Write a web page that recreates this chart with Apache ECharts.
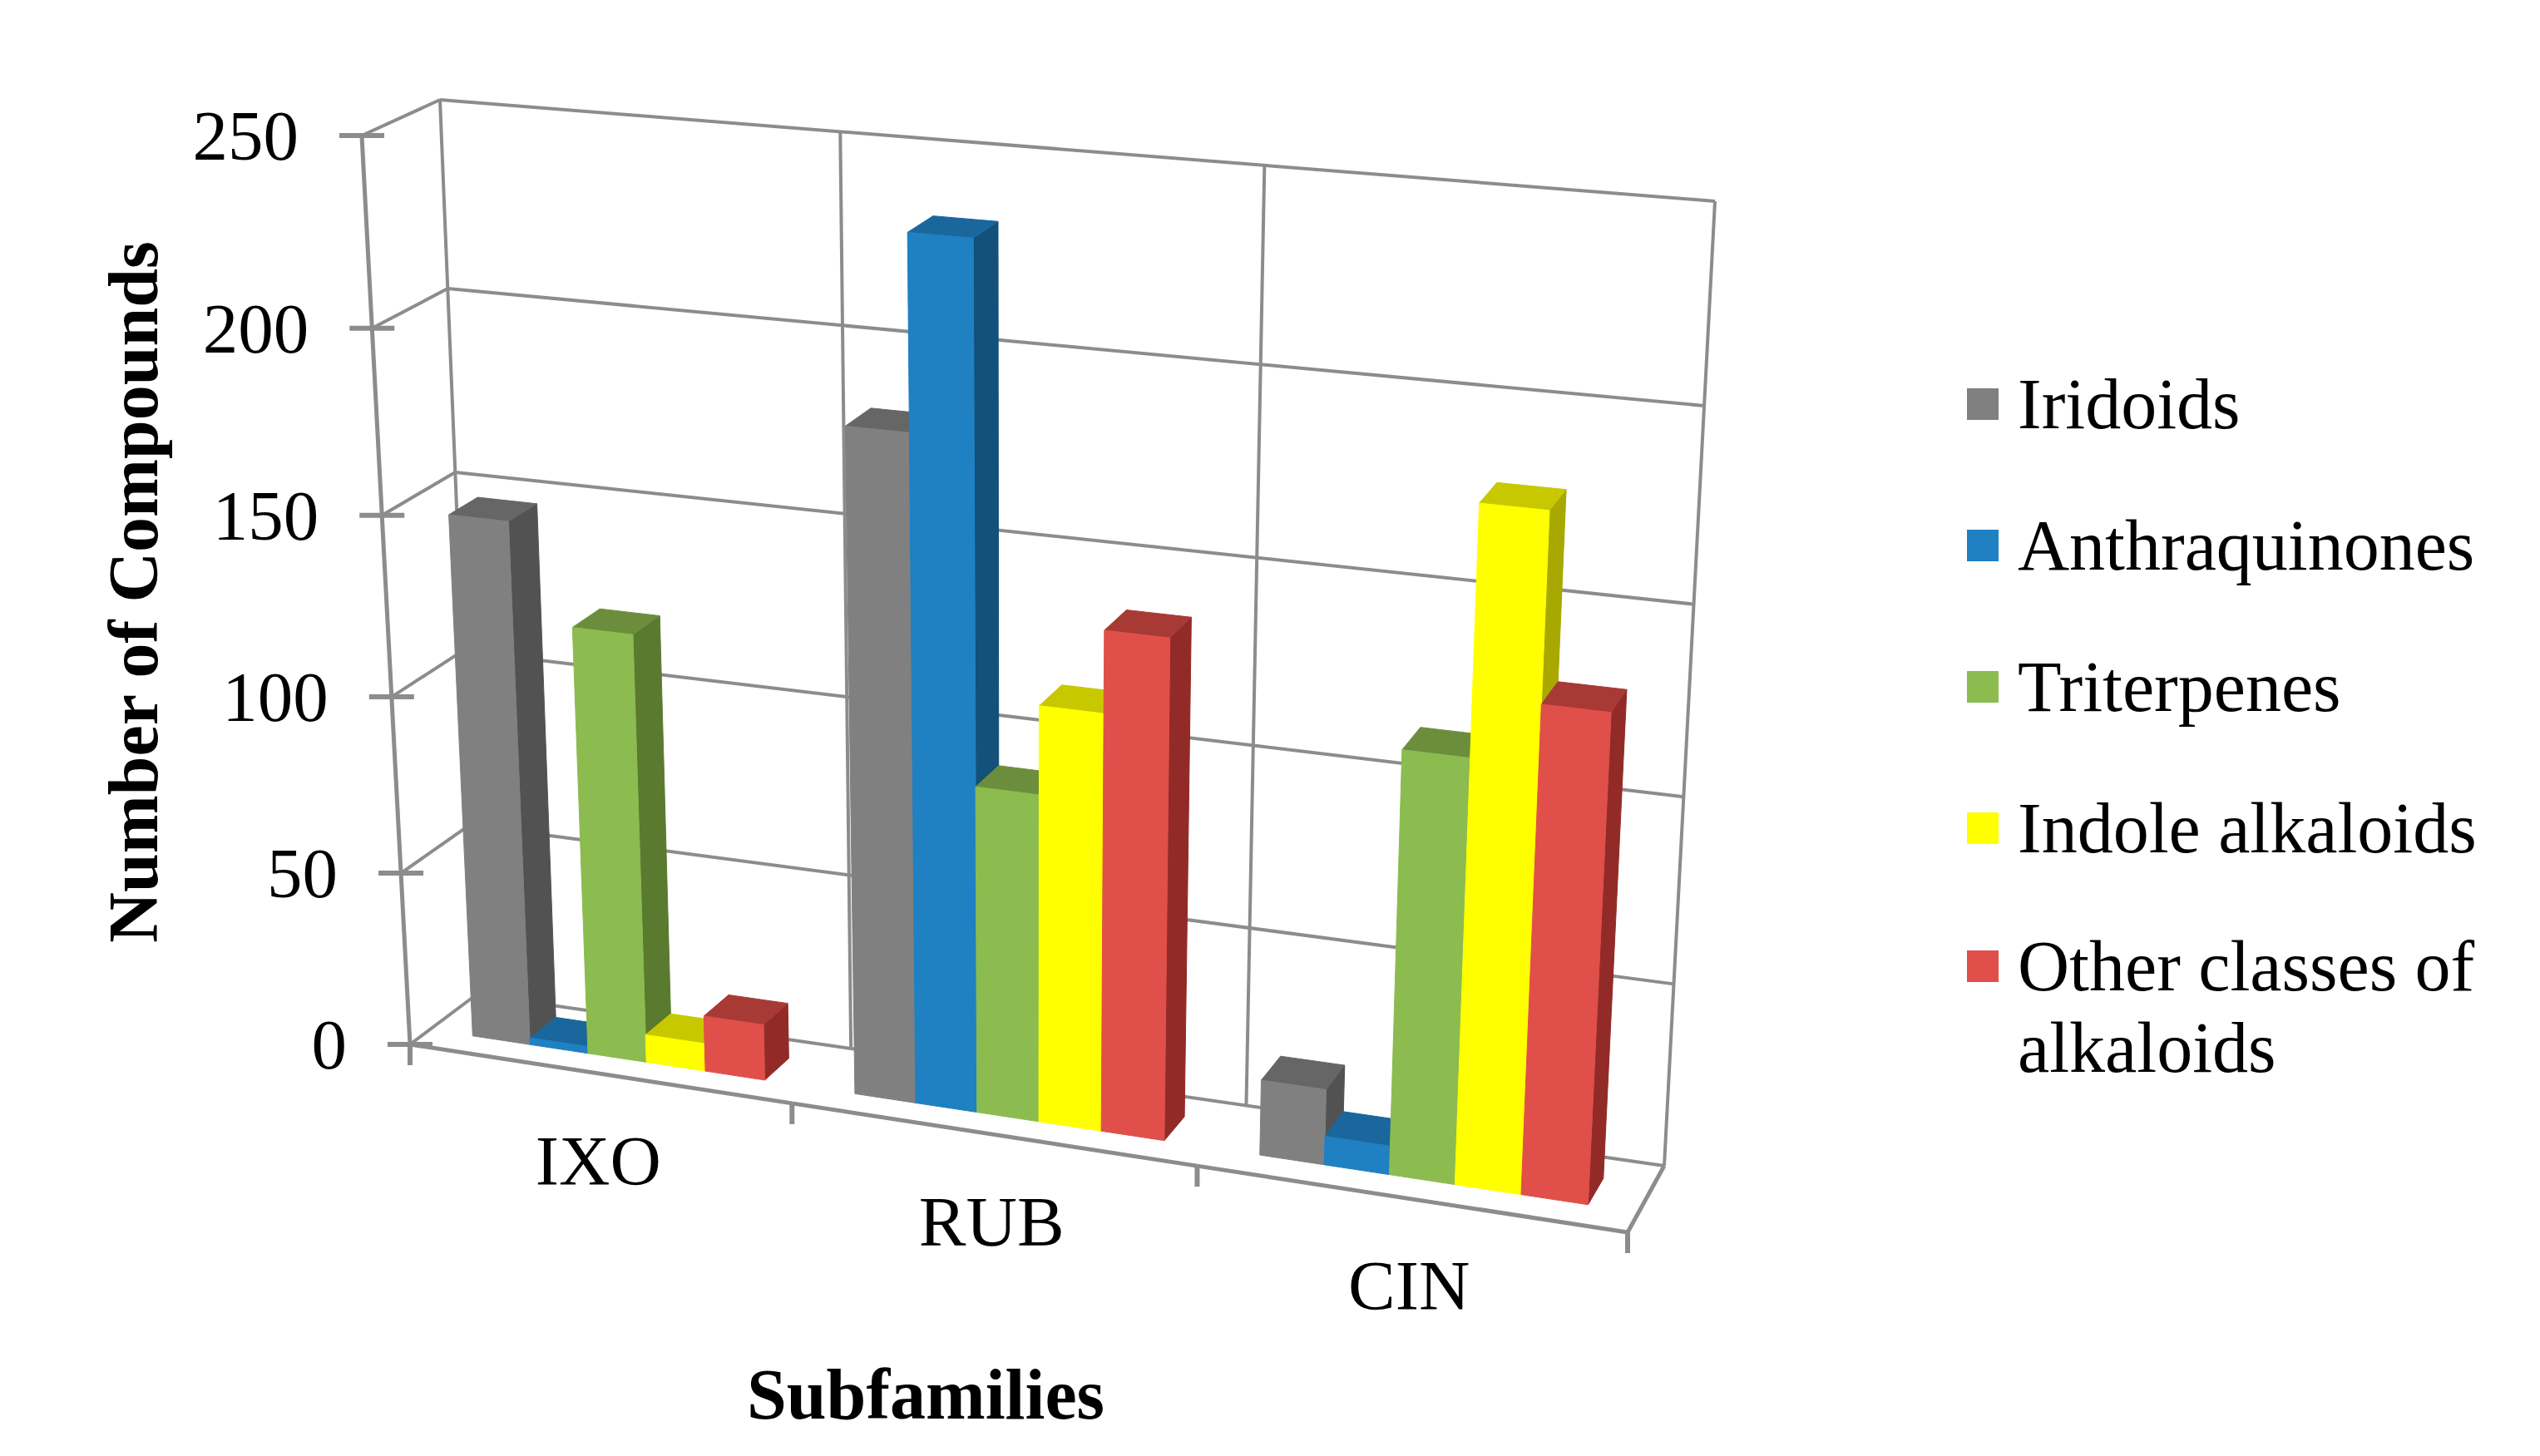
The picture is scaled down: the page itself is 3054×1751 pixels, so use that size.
<!DOCTYPE html>
<html>
<head>
<meta charset="utf-8">
<title>Compounds by subfamily</title>
<script src="https://cdn.jsdelivr.net/npm/echarts@6/dist/echarts.min.js"></script>
<style>
html, body { margin: 0; padding: 0; background: #fff; }
#container { width: 3054px; height: 1751px; }
</style>
</head>
<body>
<div id="container"></div>
<script>
// values
var subfamilies = ['IXO', 'RUB', 'CIN'];
var classNames = ['Iridoids', 'Anthraquinones', 'Triterpenes', 'Indole alkaloids', 'Other classes of alkaloids'];
var iridoids = [148, 183, 21];
var anthraquinones = [2, 234, 8];
var triterpenes = [121, 91, 115];
var indoleAlkaloids = [8, 115, 180];
var otherAlkaloids = [16, 137, 131];
var yTicks = [0, 50, 100, 150, 200, 250];

var seriesValues = [iridoids, anthraquinones, triterpenes, indoleAlkaloids, otherAlkaloids];

// face colours (front, right side, top)
var frontColors = ['#808080', '#1f80c2', '#8cbb50', '#ffff00', '#e04f4a'];
var sideColors = ['#525252', '#13507a', '#5a7a2f', '#a8a800', '#922b28'];
var topColors = ['#666666', '#19679c', '#6c8e3c', '#c8c800', '#a83a36'];

// the 3d box on screen: bottom-left, bottom-right, top-right, top-left
var frontQuad = [[493, 1256], [1957, 1482], [2017, 297], [435, 163]];
var backQuad = [[573, 1196], [2001, 1402], [2062, 242], [529, 120]];
var barDepth = [0.3, 0.7];
var lineColor = '#8c8c8c';
var serif = '"Liberation Serif", "Times New Roman", serif';

// unit square -> quad
function makeMap(q) {
    var x0 = q[0][0], y0 = q[0][1], x1 = q[1][0], y1 = q[1][1];
    var x2 = q[2][0], y2 = q[2][1], x3 = q[3][0], y3 = q[3][1];
    var sx = x0 - x1 + x2 - x3, sy = y0 - y1 + y2 - y3;
    var dx1 = x1 - x2, dx2 = x3 - x2, dy1 = y1 - y2, dy2 = y3 - y2;
    var den = dx1 * dy2 - dx2 * dy1;
    var g = (sx * dy2 - dx2 * sy) / den;
    var h = (dx1 * sy - sx * dy1) / den;
    var a = x1 - x0 + g * x1, b = x3 - x0 + h * x3;
    var d = y1 - y0 + g * y1, e = y3 - y0 + h * y3;
    return function (u, v) {
        var k = g * u + h * v + 1;
        return [(a * u + b * v + x0) / k, (d * u + e * v + y0) / k];
    };
}
var frontMap = makeMap(frontQuad);
var backMap = makeMap(backQuad);

function proj(u, v, w) {
    var f = frontMap(u, v), b = backMap(u, v);
    return [f[0] + (b[0] - f[0]) * w, f[1] + (b[1] - f[1]) * w];
}

// pixel from the hidden cartesian -> unit coords
function toU(cs, px) { return (px - cs.x) / cs.width; }
function toV(cs, py) { return (cs.y + cs.height - py) / cs.height; }

function line(p, q, width) {
    return {
        type: 'line',
        shape: { x1: p[0], y1: p[1], x2: q[0], y2: q[1] },
        style: { stroke: lineColor, lineWidth: width || 4 }
    };
}

function poly(pts, color) {
    return {
        type: 'polygon',
        shape: { points: pts },
        style: { fill: color, stroke: color, lineWidth: 1 }
    };
}

// value gridlines, side wall lines, ticks and labels
function renderValueFrame(params, api) {
    var cs = params.coordSys;
    var val = api.value(1);
    var v = toV(cs, api.coord([0, val])[1]);
    var a = proj(0, v, 0);
    var children = [
        line(proj(0, v, 1), proj(1, v, 1)),
        line(a, proj(0, v, 1)),
        line([a[0] - 27, a[1]], [a[0] + 27, a[1]], 6),
        {
            type: 'text',
            style: {
                text: String(val), x: a[0] - 76, y: a[1],
                align: 'right', verticalAlign: 'middle',
                font: '85px ' + serif, fill: '#000'
            }
        }
    ];
    return { type: 'group', children: children };
}

// category walls, floor edges, ticks and labels
function renderCategoryFrame(params, api) {
    var cs = params.coordSys;
    var cat = api.value(0);
    var c = api.coord([cat, 0]);
    var band = api.size([1, 0])[0] / cs.width;
    var uc = toU(cs, c[0]);
    var uL = uc - band / 2, uR = uc + band / 2;
    var children = [];
    if (cat === 0) {
        children.push(line(proj(0, 0, 0), proj(0, 1, 0), 5));
        children.push(line(proj(0, 0, 1), proj(0, 1, 1)));
    } else {
        children.push(line(proj(uL, 0, 1), proj(uL, 1, 1)));
    }
    children.push(line(proj(uL, 0, 0), proj(uR, 0, 0), 5));
    var t = proj(uL, 0, 0);
    children.push(line([t[0], t[1]], [t[0], t[1] + 25], 6));
    if (cat === subfamilies.length - 1) {
        children.push(line(proj(1, 0, 1), proj(1, 1, 1)));
        children.push(line(proj(1, 0, 0), proj(1, 0, 1), 5));
        var r = proj(1, 0, 0);
        children.push(line([r[0], r[1]], [r[0], r[1] + 25], 6));
    }
    var lp = proj(uc, 0, 0);
    children.push({
        type: 'text',
        style: {
            text: subfamilies[cat], x: lp[0], y: lp[1] + 105,
            align: 'center', verticalAlign: 'middle',
            font: '85px ' + serif, fill: '#000'
        }
    });
    return { type: 'group', children: children };
}

function barRenderer(idx) {
    return function (params, api) {
        var cs = params.coordSys;
        var cat = api.value(0), val = api.value(1);
        var base = api.coord([cat, 0]);
        var top = api.coord([cat, val]);
        var band = api.size([1, 0])[0] / cs.width;
        var slot = band / (classNames.length + 1.5);
        var u0 = toU(cs, base[0]) - band / 2 + slot * (0.75 + idx);
        var u1 = u0 + slot;
        var v0 = toV(cs, base[1]), v1 = toV(cs, top[1]);
        var w0 = barDepth[0], w1 = barDepth[1];
        var front = [proj(u0, v0, w0), proj(u1, v0, w0), proj(u1, v1, w0), proj(u0, v1, w0)];
        var side = [proj(u1, v0, w0), proj(u1, v0, w1), proj(u1, v1, w1), proj(u1, v1, w0)];
        var cap = [proj(u0, v1, w0), proj(u1, v1, w0), proj(u1, v1, w1), proj(u0, v1, w1)];
        return {
            type: 'group',
            children: [poly(side, sideColors[idx]), poly(cap, topColors[idx]), poly(front, frontColors[idx])]
        };
    };
}

var series = [
    {
        type: 'custom', name: 'valueFrame', silent: true, z: 1,
        renderItem: renderValueFrame,
        data: yTicks.map(function (t) { return [0, t]; })
    },
    {
        type: 'custom', name: 'categoryFrame', silent: true, z: 1,
        renderItem: renderCategoryFrame,
        data: subfamilies.map(function (s, i) { return [i, 0]; })
    }
];
classNames.forEach(function (name, i) {
    series.push({
        type: 'custom', name: name, silent: true, z: 2,
        itemStyle: { color: frontColors[i] },
        renderItem: barRenderer(i),
        encode: { x: 0, y: 1 },
        data: seriesValues[i].map(function (v, k) { return [k, v]; })
    });
});

var legendText = { fontFamily: serif, fontSize: 86, color: '#000', lineHeight: 98, padding: [0, 0, 0, 18] };
var legendBase = {
    orient: 'vertical', left: 2365, padding: 0,
    itemWidth: 38, itemHeight: 38, itemGap: 72, icon: 'rect',
    selectedMode: false, textStyle: legendText
};

var dom = document.getElementById('container');
var myChart = echarts.init(dom, null, { renderer: 'svg' });
var option = {
    animation: false,
    backgroundColor: '#fff',
    color: frontColors,
    grid: { left: 600, top: 200, width: 1400, height: 1000 },
    xAxis: { type: 'category', data: subfamilies, show: false },
    yAxis: { type: 'value', min: 0, max: 250, interval: 50, show: false },
    legend: [
        echarts.util.extend({ top: 437, data: classNames.slice(0, 4) }, legendBase),
        // two-line entry: a blank first line keeps the icon level with "Other classes of"
        echarts.util.extend({
            top: 1015,
            formatter: function (n) { return '\nOther classes of\nalkaloids'; },
            data: classNames.slice(4)
        }, legendBase)
    ],
    graphic: [
        {
            type: 'text', x: 160, y: 712, rotation: Math.PI / 2,
            style: { text: 'Number of Compounds', align: 'center', verticalAlign: 'middle', font: 'bold 84px ' + serif, fill: '#000' }
        },
        {
            type: 'text', x: 1113, y: 1677,
            style: { text: 'Subfamilies', align: 'center', verticalAlign: 'middle', font: 'bold 86px ' + serif, fill: '#000' }
        }
    ],
    series: series
};
myChart.setOption(option);
</script>
</body>
</html>
